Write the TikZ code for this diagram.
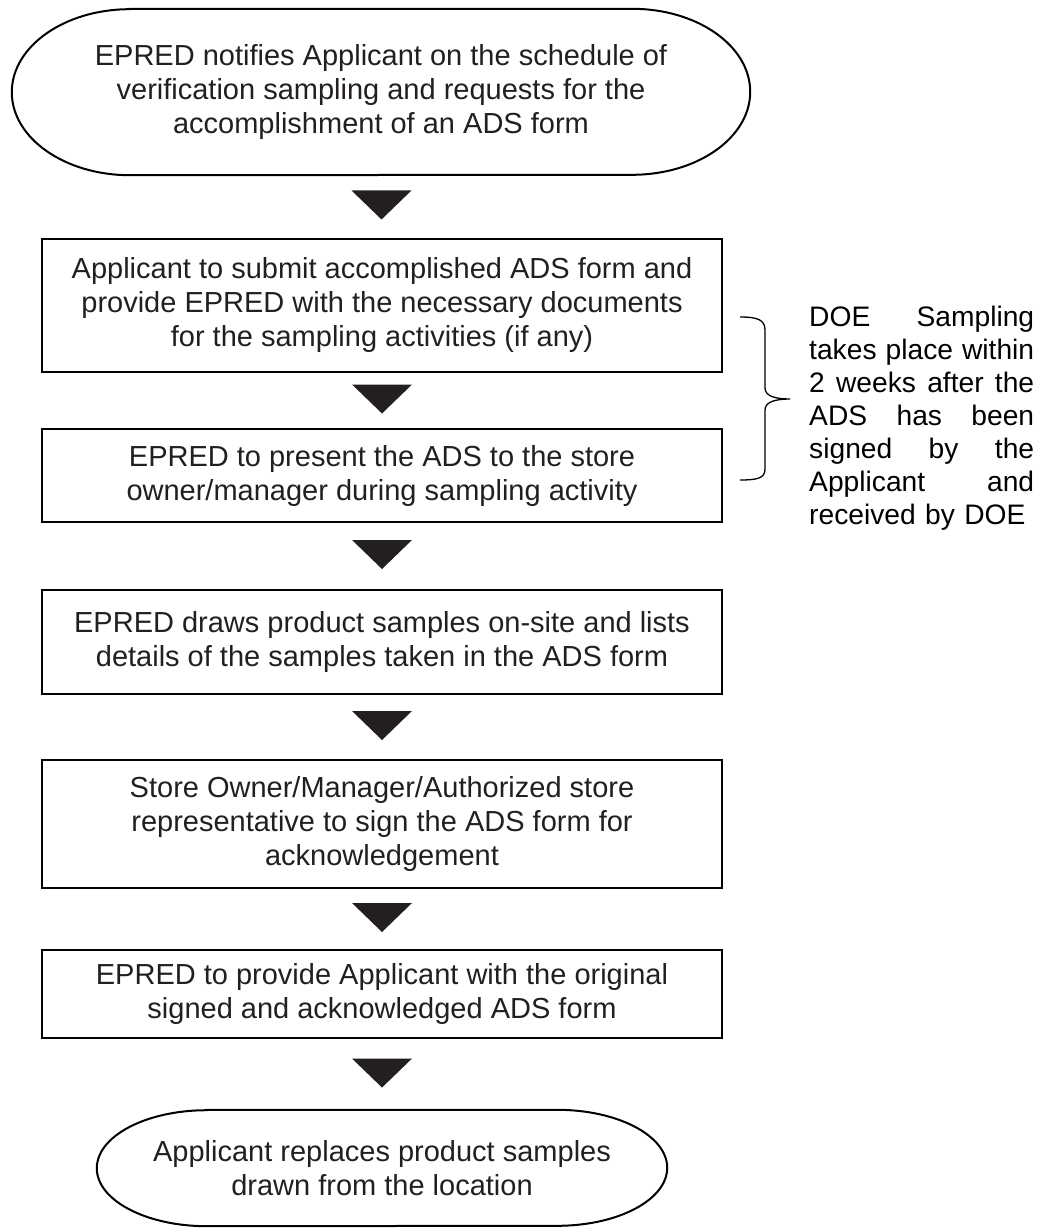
\documentclass[tikz,border=0pt]{standalone}
\usepackage{fontspec}
\setmainfont{Liberation Sans}
\usetikzlibrary{calc}
\definecolor{ink}{HTML}{231F20}
\newcommand\flowarrow[2]{\fill[flowtri] ($(#1.south)!0.5!(#2.north)+(-30,16)$) -- ++(60,0) -- ++(-30,-29) -- cycle;}
\newcommand\jline[1]{\hbox to 225pt{#1}}
\begin{document}
\begin{tikzpicture}[x=1pt,y=1pt,
  txt/.style={font=\fontsize{29}{34}\selectfont, text=ink, align=center, inner sep=0pt},
  procbox/.style={txt, draw=black, line width=2.5pt, minimum width=680pt},
  termline/.style={draw=black, line width=2pt},
  flowtri/.style={fill=ink, draw=none},
  bracel/.style={draw=black, line width=1.3pt},
  notetext/.style={font=\fontsize{28.2}{33}\selectfont, text=black, align=left, inner sep=0pt, text width=225pt}]
\useasboundingbox (0,0) rectangle (1062,-1230);

% top terminator
\node[txt, minimum width=738pt, minimum height=166pt] (t1) at (381,-92)
  {EPRED notifies Applicant on the schedule of\\verification sampling and requests for the\\accomplishment of an ADS form};
\draw[termline] ([xshift=118pt]t1.north west) -- ([xshift=-118pt]t1.north east)
  arc[start angle=90,end angle=-90,x radius=118pt,y radius=83pt]
  -- ([xshift=118pt]t1.south west)
  arc[start angle=270,end angle=90,x radius=118pt,y radius=83pt] -- cycle;

% process boxes
\node[procbox, minimum height=133pt] (b1) at (382,-305.5)
  {Applicant to submit accomplished ADS form and\\provide EPRED with the necessary documents\\for the sampling activities (if any)};
\node[procbox, minimum height=93pt] (b2) at (382,-475.5)
  {EPRED to present the ADS to the store\\owner/manager during sampling activity};
\node[procbox, minimum height=104pt] (b3) at (382,-642)
  {EPRED draws product samples on-site and lists\\details of the samples taken in the ADS form};
\node[procbox, minimum height=128pt] (b4) at (382,-824)
  {Store Owner/Manager/Authorized store\\representative to sign the ADS form for\\acknowledgement};
\node[procbox, minimum height=88pt] (b5) at (382,-994)
  {EPRED to provide Applicant with the original\\signed and acknowledged ADS form};

% bottom terminator
\node[txt, minimum width=570pt, minimum height=116pt] (t2) at (382,-1168)
  {Applicant replaces product samples\\drawn from the location};
\draw[termline] ([xshift=110pt]t2.north west) -- ([xshift=-110pt]t2.north east)
  arc[start angle=90,end angle=-90,x radius=110pt,y radius=58pt]
  -- ([xshift=110pt]t2.south west)
  arc[start angle=270,end angle=90,x radius=110pt,y radius=58pt] -- cycle;

% flow triangles
\flowarrow{t1}{b1}
\flowarrow{b1}{b2}
\flowarrow{b2}{b3}
\flowarrow{b3}{b4}
\flowarrow{b4}{b5}
\flowarrow{b5}{t2}

% brace
\coordinate (bt) at (740,-317);
\coordinate (bb) at (740,-480);
\coordinate (bm) at (790,-399);
\draw[bracel] (bt) .. controls (758,-317) and (765,-320) .. (765,-330) -- (765,-388)
  .. controls (765,-396) and (775,-399) .. (bm)
  .. controls (775,-399) and (765,-402) .. (765,-410) -- (765,-469)
  .. controls (765,-478) and (758,-480) .. (bb);

% note
\node[notetext, anchor=north west] (note) at (809,-306)
  {\jline{DOE\hfill Sampling}
   \jline{takes\hfill place\hfill within}
   \jline{2\hfill weeks\hfill after\hfill the}
   \jline{ADS\hfill has\hfill been}
   \jline{signed\hfill by\hfill the}
   \jline{Applicant\hfill and}
   \jline{received by DOE\hfil}};
\end{tikzpicture}
\end{document}
